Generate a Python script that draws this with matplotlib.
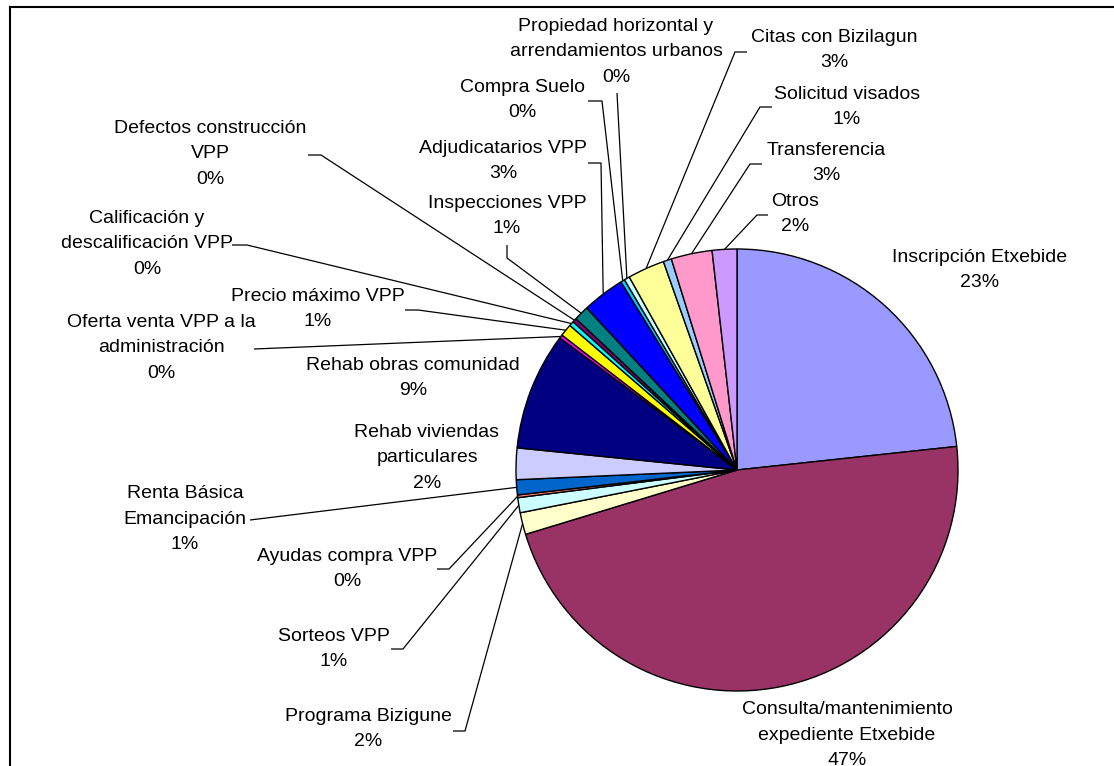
import matplotlib
matplotlib.use("Agg")
import matplotlib.pyplot as plt
import numpy as np

# categories in drawing order (clockwise from 12 o'clock)
categories = [
    "Inscripción Etxebide",
    "Consulta/mantenimiento\nexpediente Etxebide",
    "Programa Bizigune",
    "Sorteos VPP",
    "Ayudas compra VPP",
    "Renta Básica\nEmancipación",
    "Rehab viviendas\nparticulares",
    "Rehab obras comunidad",
    "Oferta venta VPP a la\nadministración",
    "Precio máximo VPP",
    "Calificación y\ndescalificación VPP",
    "Defectos construcción\nVPP",
    "Inspecciones VPP",
    "Adjudicatarios VPP",
    "Compra Suelo",
    "Propiedad horizontal y\narrendamientos urbanos",
    "Citas con Bizilagun",
    "Solicitud visados",
    "Transferencia",
    "Otros",
]
# share of each category (percent)
values = [23.3, 47.0, 1.6, 1.1, 0.2, 1.1, 2.3, 8.6, 0.25, 0.9,
          0.35, 0.3, 1.1, 3.1, 0.3, 0.4, 2.7, 0.6, 3.0, 1.8]

colors = ["#9999FF", "#993366", "#FFFFCC", "#CCFFFF", "#FF8080", "#0066CC",
          "#CCCCFF", "#000080", "#FF00FF", "#FFFF00", "#00FFFF", "#800080",
          "#008080", "#0000FF", "#00CCFF", "#CCFFFF", "#FFFF99", "#99CCFF",
          "#FF99CC", "#CC99FF"]

# label layout in pixels (from top-left): text centre, leader start, leader elbow
label_pos = [(980, 270), (847, 735), (368, 729), (334, 649), (347, 569),
             (185, 519), (427, 458), (413, 378), (161, 348), (318, 309),
             (147, 244), (210, 154), (507, 216), (503, 161), (522, 100),
             (616, 52), (834, 50), (847, 107), (826, 163), (795, 214)]
leader_start = [None, None, (453, 731), (391, 649), (437, 569),
                (250, 520), None, None, (254, 349), (405, 310),
                (232, 245), (308, 155), (507, 245), (588, 163), (588, 101),
                (617, 93), (747, 52), (772, 107), (762, 164), (768, 215)]
leader_elbow = [None, None, (465, 731), (403, 649), (449, 569),
                None, None, None, None, (418, 310),
                (247, 245), (321, 155), (507, 258), (601, 163), (602, 101),
                None, (735, 52), (760, 107), (750, 164), (757, 215)]

W, H = 1114, 766
cx, cy, r = 737, 470, 221

fig = plt.figure(figsize=(W / 100, H / 100), dpi=100)
ax = fig.add_axes([0, 0, 1, 1])

# y axis points down, so this runs clockwise from the top on screen
wedges, _ = ax.pie(values, colors=colors, startangle=-90, counterclock=True,
                   center=(cx, cy), radius=r,
                   wedgeprops=dict(edgecolor="black", linewidth=1.0))

ax.set_xlim(0, W)
ax.set_ylim(H, 0)
ax.axis("off")

total = sum(values)
for i, w in enumerate(wedges):
    pct = values[i] / total * 100
    tx, ty = label_pos[i]
    ax.text(tx, ty, "%s\n%.0f%%" % (categories[i], pct), ha="center", va="center",
            multialignment="center", fontsize=14, family="Liberation Sans",
            linespacing=1.65, color="black")
    if leader_start[i] is None:
        continue
    mid = np.deg2rad((w.theta1 + w.theta2) / 2)
    ex = cx + r * np.cos(mid)
    ey = cy + r * np.sin(mid)
    pts = [leader_start[i]]
    if leader_elbow[i] is not None:
        pts.append(leader_elbow[i])
    pts.append((ex, ey))
    xs = [p[0] for p in pts]
    ys = [p[1] for p in pts]
    ax.plot(xs, ys, color="black", lw=0.9, solid_capstyle="butt")

# chart frame (only top and left edges are in view)
ax.plot([10, W], [7, 7], color="black", lw=1.5)
ax.plot([10, 10], [7, H], color="black", lw=1.5)

fig.savefig("out.png", dpi=100)
